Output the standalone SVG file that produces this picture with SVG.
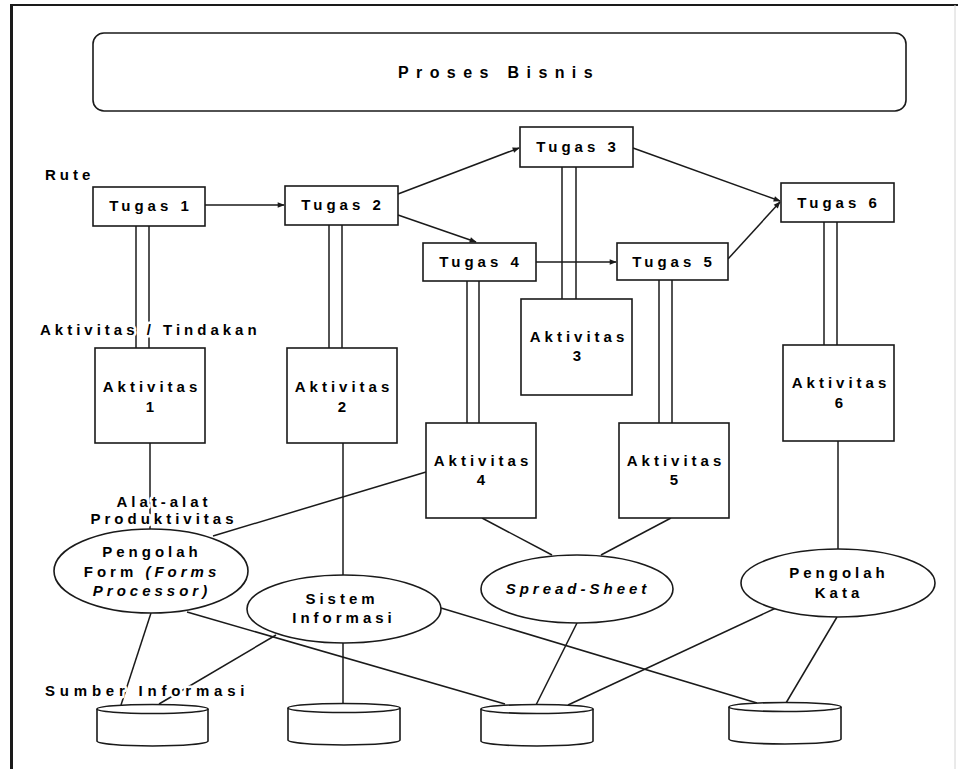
<svg xmlns="http://www.w3.org/2000/svg" width="958" height="769" viewBox="0 0 958 769">
<defs>
<style>
.bx{fill:#fff;stroke:#1a1a1a;stroke-width:1.6}
.ln{fill:none;stroke:#1a1a1a;stroke-width:1.5}
.t{font-family:"Liberation Sans",Arial,sans-serif;font-weight:bold;font-size:15px;letter-spacing:4px;fill:#000}
.m{text-anchor:middle}
.i{font-style:italic}
.halo{paint-order:stroke;stroke:#fff;stroke-width:5px;stroke-linejoin:round}
</style>
<marker id="ah" viewBox="0 0 10 10" refX="9" refY="5" markerWidth="9" markerHeight="7" markerUnits="userSpaceOnUse" orient="auto">
<path d="M0,1 L10,5 L0,9 Z" fill="#1a1a1a"/>
</marker>
</defs>
<rect width="958" height="769" fill="#fff"/>
<g id="frame">
<line x1="10" y1="5" x2="958" y2="5" stroke="#1a1a1a" stroke-width="2"/>
<line x1="11.5" y1="5" x2="11.5" y2="769" stroke="#1a1a1a" stroke-width="3"/>
<line x1="955" y1="5" x2="955" y2="769" stroke="#d4d4d4" stroke-width="1"/>
</g>
<g id="connectors">
<line class="ln" x1="205" y1="205" x2="284" y2="205" marker-end="url(#ah)"/>
<line class="ln" x1="398" y1="194" x2="519" y2="148" marker-end="url(#ah)"/>
<line class="ln" x1="398" y1="215" x2="476" y2="242" marker-end="url(#ah)"/>
<line class="ln" x1="633" y1="148" x2="780" y2="201" marker-end="url(#ah)"/>
<line class="ln" x1="536" y1="262" x2="616" y2="262" marker-end="url(#ah)"/>
<line class="ln" x1="728" y1="259" x2="780" y2="202" marker-end="url(#ah)"/>
<line class="ln" x1="136" y1="226" x2="136" y2="348"/>
<line class="ln" x1="149" y1="226" x2="149" y2="348"/>
<line class="ln" x1="329" y1="225" x2="329" y2="348"/>
<line class="ln" x1="342" y1="225" x2="342" y2="348"/>
<line class="ln" x1="562" y1="167" x2="562" y2="299"/>
<line class="ln" x1="576" y1="167" x2="576" y2="299"/>
<line class="ln" x1="467" y1="281" x2="467" y2="423"/>
<line class="ln" x1="479" y1="281" x2="479" y2="423"/>
<line class="ln" x1="659" y1="280" x2="659" y2="423"/>
<line class="ln" x1="672" y1="280" x2="672" y2="423"/>
<line class="ln" x1="824" y1="222" x2="824" y2="345"/>
<line class="ln" x1="837" y1="222" x2="837" y2="345"/>
<line class="ln" x1="150" y1="443" x2="150" y2="530"/>
<line class="ln" x1="343" y1="443" x2="343" y2="575"/>
<line class="ln" x1="426" y1="472" x2="213" y2="536"/>
<line class="ln" x1="482" y1="518" x2="552" y2="555"/>
<line class="ln" x1="671" y1="518" x2="601" y2="555"/>
<line class="ln" x1="838" y1="441" x2="838" y2="549"/>
<line class="ln" x1="151" y1="613" x2="121" y2="705"/>
<line class="ln" x1="276" y1="635" x2="159" y2="704"/>
<line class="ln" x1="187" y1="612" x2="505" y2="704"/>
<line class="ln" x1="343" y1="643" x2="343" y2="703"/>
<line class="ln" x1="441" y1="608" x2="757" y2="703"/>
<line class="ln" x1="577" y1="623" x2="536" y2="705"/>
<line class="ln" x1="776" y1="608" x2="568" y2="705"/>
<line class="ln" x1="837" y1="617" x2="786" y2="703"/>
</g>
<g id="proses-bisnis">
<rect class="bx" x="93" y="33" width="813" height="78" rx="11"/>
<text class="t m" x="499" y="78" style="font-size:16px;letter-spacing:7.4px">Proses Bisnis</text>
</g>
<g id="labels">
<text class="t" x="45" y="180">Rute</text>
<text class="t halo" x="40" y="335">Aktivitas / Tindakan</text>
<text class="t m halo" x="164" y="507">Alat-alat</text>
<text class="t m halo" x="164" y="524">Produktivitas</text>
<text class="t halo" x="45" y="696" style="letter-spacing:4.8px">Sumber Informasi</text>
</g>
<g id="tugas1"><rect class="bx" x="93" y="187" width="112" height="39"/><text class="t m" x="151" y="211">Tugas 1</text></g>
<g id="tugas2"><rect class="bx" x="285" y="186" width="113" height="39"/><text class="t m" x="343" y="210">Tugas 2</text></g>
<g id="tugas3"><rect class="bx" x="520" y="127" width="113" height="40"/><text class="t m" x="578" y="152">Tugas 3</text></g>
<g id="tugas4"><rect class="bx" x="423" y="243" width="113" height="38"/><text class="t m" x="481" y="267">Tugas 4</text></g>
<g id="tugas5"><rect class="bx" x="617" y="243" width="111" height="37"/><text class="t m" x="674" y="267">Tugas 5</text></g>
<g id="tugas6"><rect class="bx" x="781" y="183" width="113" height="39"/><text class="t m" x="839" y="208">Tugas 6</text></g>
<g id="aktivitas1"><rect class="bx" x="95" y="348" width="110" height="95"/><text class="t m" x="152" y="392">Aktivitas</text><text class="t m" x="152" y="412">1</text></g>
<g id="aktivitas2"><rect class="bx" x="287" y="348" width="110" height="95"/><text class="t m" x="344" y="392">Aktivitas</text><text class="t m" x="344" y="412">2</text></g>
<g id="aktivitas3"><rect class="bx" x="521" y="299" width="111" height="96"/><text class="t m" x="579" y="342">Aktivitas</text><text class="t m" x="579" y="361">3</text></g>
<g id="aktivitas4"><rect class="bx" x="426" y="423" width="110" height="95"/><text class="t m" x="483" y="466">Aktivitas</text><text class="t m" x="483" y="485">4</text></g>
<g id="aktivitas5"><rect class="bx" x="619" y="423" width="110" height="95"/><text class="t m" x="676" y="466">Aktivitas</text><text class="t m" x="676" y="485">5</text></g>
<g id="aktivitas6"><rect class="bx" x="783" y="345" width="111" height="96"/><text class="t m" x="841" y="388">Aktivitas</text><text class="t m" x="841" y="408">6</text></g>
<g id="pengolah-form"><ellipse class="bx" cx="151" cy="571" rx="97" ry="42"/>
<text class="t m" x="152" y="557">Pengolah</text>
<text class="t m" x="152" y="577">Form <tspan class="i">(Forms</tspan></text>
<text class="t m i" x="152" y="596">Processor)</text></g>
<g id="sistem-informasi"><ellipse class="bx" cx="344" cy="609" rx="97" ry="34"/>
<text class="t m" x="342" y="604">Sistem</text>
<text class="t m" x="344" y="623">Informasi</text></g>
<g id="spread-sheet"><ellipse class="bx" cx="577" cy="589" rx="96" ry="34"/>
<text class="t m i" x="578" y="594">Spread-Sheet</text></g>
<g id="pengolah-kata"><ellipse class="bx" cx="838" cy="583" rx="97" ry="34"/>
<text class="t m" x="839" y="578">Pengolah</text>
<text class="t m" x="839" y="598">Kata</text></g>
<g id="sumber1"><path class="bx" d="M97,709 V741 A55.5,5 0 0 0 208,741 V709"/><ellipse class="bx" cx="152.5" cy="709" rx="55.5" ry="4.5"/></g>
<g id="sumber2"><path class="bx" d="M288,708 V740 A56,5 0 0 0 400,740 V708"/><ellipse class="bx" cx="344" cy="708" rx="56" ry="4.5"/></g>
<g id="sumber3"><path class="bx" d="M481,709 V741 A56,5 0 0 0 593,741 V709"/><ellipse class="bx" cx="537" cy="709" rx="56" ry="4.5"/></g>
<g id="sumber4"><path class="bx" d="M729,707 V739 A56,5 0 0 0 841,739 V707"/><ellipse class="bx" cx="785" cy="707" rx="56" ry="4.5"/></g>
</svg>
